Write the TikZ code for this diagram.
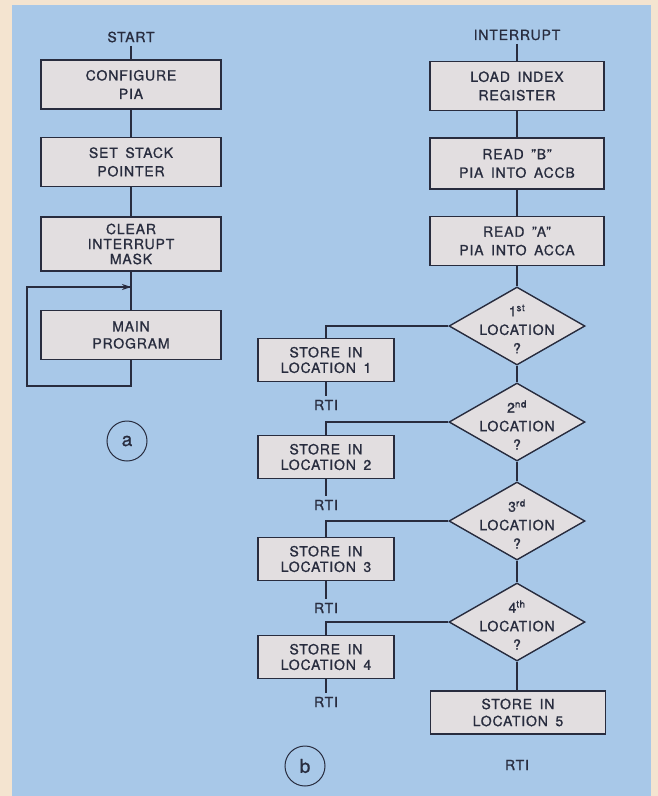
\documentclass[tikz,border=0pt]{standalone}
\usepackage{fontspec}
\setmainfont{TeX Gyre Heros}[LetterSpace=6, WordSpace=1.6, FakeBold=1]
\usetikzlibrary{arrows.meta, positioning, shapes.geometric}
\definecolor{PanelBlue}{RGB}{168, 200, 232}
\definecolor{PaperTan}{RGB}{244, 228, 208}
\definecolor{BoxGrey}{RGB}{226, 222, 224}
\definecolor{InkNavy}{RGB}{40, 44, 62}

\begin{document}
\begin{tikzpicture}[
    x=1pt, y=-1pt,
    every node/.style={font=\fontsize{14}{18.5}\selectfont, text=InkNavy},
    process/.style={rectangle, draw=InkNavy, line width=1.4pt, fill=BoxGrey, align=center,
        minimum width=180pt, minimum height=49pt, inner sep=0pt},
    routine/.style={process, minimum width=174pt},
    storebox/.style={process, minimum width=136pt, minimum height=43pt,
        font=\fontsize{14}{15.5}\selectfont},
    decision/.style={diamond, draw=InkNavy, line width=1.4pt, fill=BoxGrey,
        minimum width=136pt, minimum height=78pt, inner sep=0pt},
    dtext/.style={align=center, yshift=-3pt},
    flow/.style={draw=InkNavy, line width=1.4pt},
    marker/.style={circle, draw=InkNavy, line width=1pt, minimum size=40pt, inner sep=0pt,
        font=\fontsize{19}{19}\selectfont}
]

% Paper and panel
\fill[PaperTan] (0,0) rectangle (658,796);
\fill[PanelBlue] (12,5) rectangle (651,796);
\useasboundingbox (0,0) rectangle (658,796);

% (a) Main flow
\node (start) at (131,37) {START};
\node[process] (config) at (131,84.5) {CONFIGURE\\PIA};
\node[process] (stack) at (131,162) {SET STACK\\POINTER};
\node[process, minimum height=54pt, font=\fontsize{14}{15}\selectfont] (clrmask) at (131,244) {CLEAR\\INTERRUPT\\MASK};
\node[process, font=\fontsize{14}{17}\selectfont] (mainprog) at (131,335) {MAIN\\PROGRAM};
\coordinate (loopin) at (131,287);
\coordinate (loopbot) at (131,386);
\coordinate (loopcorner) at (27,386);
\node[marker] (tagA) at (127,441) {a};

\draw[flow] (start) -- (config);
\draw[flow] (config) -- (stack);
\draw[flow] (stack) -- (clrmask);
\draw[flow] (clrmask) -- (mainprog);
\draw[flow] (mainprog) -- (loopbot) -- (loopcorner) |- (loopin);
\draw[flow, -{Stealth[length=9pt, width=6pt]}] (loopcorner |- loopin) -- (loopin);

% (b) Interrupt routine
\node (irq) at (517,35) {INTERRUPT};
\node[routine] (loadx) at (517,86) {LOAD INDEX\\REGISTER};
\node[routine, minimum height=51pt] (readb) at (517,163.5) {READ "B"\\PIA INTO ACCB};
\node[routine] (reada) at (517,241) {READ "A"\\PIA INTO ACCA};

\node[decision, label={[dtext]center:{1\textsuperscript{st}\\LOCATION\\?}}] (loc1) at (517,326) {};
\node[decision, label={[dtext]center:{2\textsuperscript{nd}\\LOCATION\\?}}] (loc2) at (517,422) {};
\node[decision, label={[dtext]center:{3\textsuperscript{rd}\\LOCATION\\?}}] (loc3) at (517,521) {};
\node[decision, label={[dtext]center:{4\textsuperscript{th}\\LOCATION\\?}}] (loc4) at (517,622) {};

\node[storebox] (store1) at (326,360) {STORE IN\\LOCATION 1};
\node[storebox] (store2) at (326,457) {STORE IN\\LOCATION 2};
\node[storebox] (store3) at (326,559) {STORE IN\\LOCATION 3};
\node[storebox] (store4) at (326,657) {STORE IN\\LOCATION 4};
\node[storebox, minimum width=175pt, font=\fontsize{14}{17}\selectfont] (store5) at (518,712.5) {STORE IN\\LOCATION 5};

\node (rti1) at (326,405) {RTI};
\node (rti2) at (326,505) {RTI};
\node (rti3) at (326,608) {RTI};
\node (rti4) at (326,702) {RTI};
\node (rti5) at (517,765) {RTI};
\node[marker] (tagB) at (305,766) {b};

\draw[flow] (irq) -- (loadx);
\draw[flow] (loadx) -- (readb);
\draw[flow] (readb) -- (reada);
\draw[flow] (reada) -- (loc1);
\draw[flow] (loc1) -- (loc2);
\draw[flow] (loc2) -- (loc3);
\draw[flow] (loc3) -- (loc4);
\draw[flow] (loc4) -- (loc4 |- store5.north);

\foreach \k in {1,2,3,4} {
    \draw[flow] (loc\k.west) -| (store\k.north);
    \draw[flow] (store\k) -- (rti\k);
}

\end{tikzpicture}
\end{document}
